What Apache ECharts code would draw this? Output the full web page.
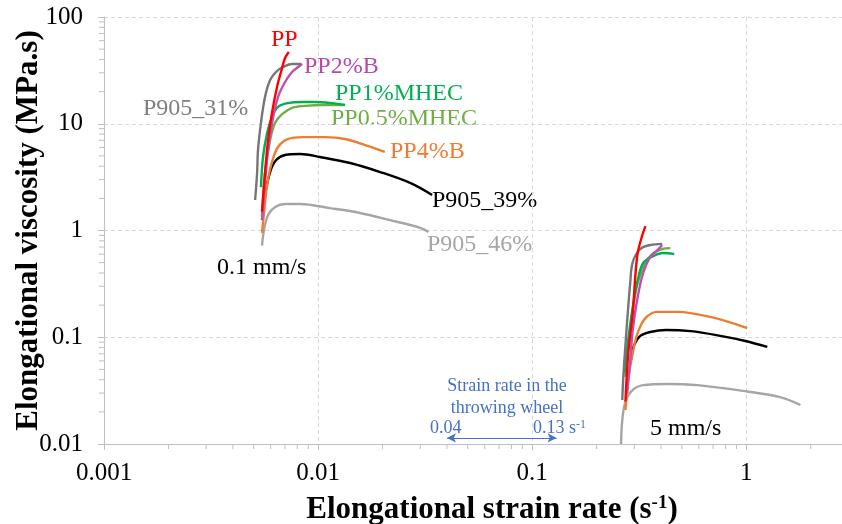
<!DOCTYPE html>
<html lang="en">
<head>
<meta charset="UTF-8">
<title>Elongational viscosity</title>
<script src="https://cdn.jsdelivr.net/npm/echarts@6/dist/echarts.min.js"></script>
<style>
    html, body { margin: 0; padding: 0; background: #fff; }
    #chart { width: 842px; height: 524px; }
</style>
</head>
<body>
<div id="chart"></div>
<script>
// [strain rate (1/s), viscosity (MPa.s)]
// 0.1 mm/s
var pp_slow    = [[0.00547,1.5],[0.00565,3.46],[0.00584,7.04],[0.00609,12.6],[0.00643,22.1],[0.00679,33.3],[0.00701,41.3],[0.00730,47.0]];
var pp2b_slow  = [[0.00547,1.25],[0.00565,2.79],[0.00584,5.68],[0.00617,11.6],[0.00650,17.8],[0.00701,24.6],[0.00756,30.5],[0.00807,34.0],[0.00842,36.3]];
var pp1m_slow  = [[0.00541,2.55],[0.00553,4.88],[0.00578,8.19],[0.00609,11.6],[0.00650,14.4],[0.00720,15.6],[0.00842,16.0],[0.00968,16.0],[0.0116,15.6],[0.01337,15.0]];
var pp05m_slow = [[0.00547,1.34],[0.00565,3.46],[0.00597,7.04],[0.00630,10.2],[0.00679,12.3],[0.00756,14.1],[0.00869,14.7],[0.0105,15.0],[0.0131,15.0]];
var pp4b_slow  = [[0.00547,0.95],[0.00559,1.46],[0.00578,2.67],[0.00609,4.38],[0.00650,6.05],[0.00720,7.19],[0.00851,7.5],[0.0108,7.5],[0.01337,7.19],[0.0166,6.32],[0.0205,5.44]];
var p39_slow   = [[0.00547,1.25],[0.00565,2.15],[0.00597,3.53],[0.00637,4.57],[0.00701,5.10],[0.00824,5.21],[0.0102,4.88],[0.01412,4.29],[0.0195,3.53],[0.0269,2.79],[0.0341,2.15]];
var p46_slow   = [[0.00547,0.72],[0.00559,1.01],[0.00584,1.40],[0.00630,1.66],[0.00701,1.77],[0.00824,1.77],[0.01138,1.62],[0.0157,1.46],[0.0217,1.25],[0.0300,1.06],[0.0328,0.97]];
var p31_slow   = [[0.00508,1.93],[0.00519,3.46],[0.00524,5.68],[0.00541,10.2],[0.00565,17.8],[0.00597,25.7],[0.00643,31.2],[0.00686,34.0],[0.00756,36.3],[0.00833,36.3]];

// 5 mm/s
var pp_fast    = [[0.2727,0.025],[0.281,0.0711],[0.295,0.169],[0.303,0.366],[0.311,0.615],[0.325,0.869],[0.338,1.10]];
var pp2b_fast  = [[0.278,0.0301],[0.287,0.0612],[0.295,0.117],[0.311,0.238],[0.330,0.400],[0.356,0.565],[0.384,0.652],[0.405,0.731]];
var pp1m_fast  = [[0.2696,0.0463],[0.278,0.0811],[0.295,0.192],[0.309,0.322],[0.330,0.497],[0.369,0.577],[0.409,0.615],[0.461,0.601]];
var pp05m_fast = [[0.2727,0.0425],[0.281,0.0811],[0.295,0.180],[0.311,0.322],[0.338,0.497],[0.369,0.615],[0.405,0.671],[0.442,0.684]];
var pp4b_fast  = [[0.2727,0.0208],[0.281,0.0398],[0.295,0.0711],[0.311,0.110],[0.338,0.151],[0.384,0.173],[0.476,0.173],[0.679,0.155],[1.01,0.122]];
var p39_fast   = [[0.290,0.064],[0.2995,0.0846],[0.320,0.103],[0.356,0.112],[0.421,0.117],[0.550,0.114],[0.757,0.103],[0.99,0.0923],[1.254,0.0811]];
var p46_fast   = [[0.26,0.01],[0.2636,0.0168],[0.2727,0.0249],[0.295,0.0321],[0.330,0.0356],[0.427,0.0365],[0.591,0.0356],[1.01,0.031],[1.44,0.0275],[1.79,0.0232]];
var p31_fast   = [[0.2636,0.0258],[0.2665,0.0425],[0.2727,0.0846],[0.278,0.145],[0.287,0.322],[0.295,0.507],[0.320,0.671],[0.356,0.731],[0.405,0.750]];

// strain rate range of the throwing wheel
var wheelRange = [0.04, 0.13];

// axis ticks
var xTickLabels = ['0.001', '0.01', '0.1', '1'];
var yTickLabels = ['0.01', '0.1', '1', '10', '100'];
var xMinorTicks = [0.002,0.003,0.004,0.005,0.006,0.007,0.008,0.009,
                   0.02,0.03,0.04,0.05,0.06,0.07,0.08,0.09,
                   0.2,0.3,0.4,0.5,0.6,0.7,0.8,0.9,2];
var yMinorTicks = [0.02,0.03,0.04,0.05,0.06,0.07,0.08,0.09,
                   0.2,0.3,0.4,0.5,0.6,0.7,0.8,0.9,
                   2,3,4,5,6,7,8,9,20,30,40,50,60,70,80,90];

var FONT = '"Liberation Serif", "Times New Roman", serif';
var X_MIN = 0.001, X_MAX = 2.8, Y_MIN = 0.01, Y_MAX = 100;

var samples = [
    { name: 'P905_46%',   color: '#a6a6a6', slow: p46_slow,   fast: p46_fast },
    { name: 'P905_39%',   color: '#000000', slow: p39_slow,   fast: p39_fast },
    { name: 'PP4%B',      color: '#ed7d31', slow: pp4b_slow,  fast: pp4b_fast },
    { name: 'PP0.5%MHEC', color: '#70ad47', slow: pp05m_slow, fast: pp05m_fast },
    { name: 'PP1%MHEC',   color: '#00b050', slow: pp1m_slow,  fast: pp1m_fast },
    { name: 'PP2%B',      color: '#c04fb2', slow: pp2b_slow,  fast: pp2b_fast },
    { name: 'P905_31%',   color: '#767676', slow: p31_slow,   fast: p31_fast },
    { name: 'PP',         color: '#ff0000', slow: pp_slow,    fast: pp_fast }
];

var series = [];
samples.forEach(function (s) {
    [s.slow, s.fast].forEach(function (d) {
        series.push({
            name: s.name,
            type: 'line',
            data: d,
            smooth: 0.35,
            showSymbol: false,
            symbol: 'none',
            lineStyle: { color: s.color, width: 2.4 },
            silent: true
        });
    });
});

// minor ticks (log 2..9) drawn through the axes
function minorTick(dir) {
    return function (params, api) {
        var p = api.coord([api.value(0), api.value(1)]);
        var shape = dir === 'x'
            ? { x1: p[0], y1: p[1], x2: p[0], y2: p[1] + 5 }
            : { x1: p[0] - 5, y1: p[1], x2: p[0], y2: p[1] };
        return { type: 'line', shape: shape, style: { stroke: '#bfbfbf', lineWidth: 1 } };
    };
}
series.push({
    type: 'custom', clip: false, silent: true,
    data: xMinorTicks.map(function (v) { return [v, Y_MIN]; }),
    renderItem: minorTick('x')
});
series.push({
    type: 'custom', clip: false, silent: true,
    data: yMinorTicks.map(function (v) { return [X_MIN, v]; }),
    renderItem: minorTick('y')
});

// double arrow for the throwing wheel range
series.push({
    type: 'line', data: [], silent: true,
    markLine: {
        silent: true,
        symbol: ['arrow', 'arrow'],
        symbolSize: [7, 9],
        label: { show: false },
        lineStyle: { color: '#4472c4', width: 1, type: 'solid' },
        data: [[{ coord: [wheelRange[0], 0.0114] }, { coord: [wheelRange[1], 0.0114] }]]
    }
});

function decadeLabel(list, min) {
    return function (v) {
        var k = Math.round(Math.log10(v) - Math.log10(min));
        if (Math.abs(Math.log10(v) - Math.round(Math.log10(v))) > 1e-6) return '';
        return list[k] || '';
    };
}

function txt(text, x, y, color, size, align) {
    return {
        type: 'text', x: x, y: y, silent: true,
        style: {
            text: text, fill: color, fontFamily: FONT, fontSize: size || 24,
            align: align || 'left', verticalAlign: 'middle',
            rich: { sup: { fontSize: 12, verticalAlign: 'top', fill: color, fontFamily: FONT } }
        }
    };
}

var chart = echarts.init(document.getElementById('chart'));
var option = {
    animation: false,
    backgroundColor: '#fff',
    grid: { left: 104, right: 0, top: 17, bottom: 80, outerBoundsMode: 'none', containLabel: false },
    xAxis: {
        type: 'log', logBase: 10, min: X_MIN, max: X_MAX,
        name: 'Elongational strain rate (s{sup|-1})',
        nameLocation: 'middle', nameGap: 50, nameMoveOverlap: false,
        nameTextStyle: {
            fontFamily: FONT, fontSize: 31, fontWeight: 'bold', color: '#000',
            padding: [0, 0, 0, 38],
            rich: { sup: { fontFamily: FONT, fontSize: 19, fontWeight: 'bold', verticalAlign: 'top', color: '#000' } }
        },
        axisLine: { lineStyle: { color: '#bfbfbf', width: 1 } },
        axisTick: { length: 6, lineStyle: { color: '#bfbfbf' } },
        splitLine: { show: true, lineStyle: { color: '#d9d9d9', type: [4, 3] } },
        axisLabel: {
            formatter: decadeLabel(xTickLabels, X_MIN),
            fontFamily: FONT, fontSize: 25, color: '#000', margin: 17,
            showMaxLabel: false
        }
    },
    yAxis: {
        type: 'log', logBase: 10, min: Y_MIN, max: Y_MAX,
        name: 'Elongational viscosity (MPa.s)',
        nameLocation: 'middle', nameGap: 60, nameMoveOverlap: false,
        nameTextStyle: { fontFamily: FONT, fontSize: 31, fontWeight: 'bold', color: '#000' },
        axisLine: { show: true, lineStyle: { color: '#bfbfbf', width: 1 } },
        axisTick: { show: true, length: 6, lineStyle: { color: '#bfbfbf' } },
        splitLine: { show: true, lineStyle: { color: '#d9d9d9', type: [4, 3] } },
        axisLabel: {
            formatter: decadeLabel(yTickLabels, Y_MIN),
            fontFamily: FONT, fontSize: 25, color: '#000', margin: 21
        }
    },
    graphic: [
        txt('PP', 271, 40, '#ff0000'),
        txt('PP2%B', 304, 67, '#b84aa9'),
        txt('PP1%MHEC', 335, 94, '#00b050'),
        txt('PP0.5%MHEC', 331, 119, '#70ad47'),
        txt('PP4%B', 390, 152, '#ed7d31'),
        txt('P905_39%', 432, 201, '#000000'),
        txt('P905_46%', 427, 245, '#a6a6a6'),
        txt('P905_31%', 143, 109, '#7f7f7f'),
        txt('0.1 mm/s', 217, 268, '#000000'),
        txt('5 mm/s', 650, 429, '#000000'),
        txt('Strain rate in the', 507, 386, '#4472c4', 18, 'center'),
        txt('throwing wheel', 507, 408, '#4472c4', 18, 'center'),
        txt('0.04', 430, 428, '#4472c4', 18),
        txt('0.13 s{sup|-1}', 533, 428, '#4472c4', 18)
    ],
    series: series
};
chart.setOption(option);
</script>
</body>
</html>
